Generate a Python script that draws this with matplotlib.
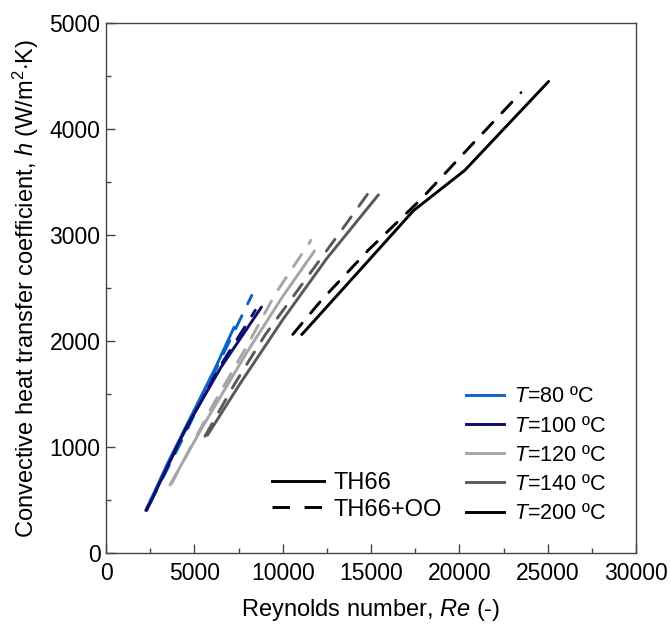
import matplotlib
matplotlib.use("Agg")
import matplotlib.pyplot as plt
from matplotlib.lines import Line2D

plt.rcParams['font.family'] = ['Liberation Sans', 'DejaVu Sans']
plt.rcParams['mathtext.fontset'] = 'custom'
plt.rcParams['mathtext.rm'] = 'Liberation Sans'
plt.rcParams['mathtext.it'] = 'Liberation Sans:italic'

# ---- data (Re, h) ----
temps = ["80", "100", "120", "140", "200"]
colors = ["#0a64c8", "#0d0d6b", "#a6a6a6", "#595959", "#000000"]

re_80_th66 = [2450, 3500, 5000, 6200, 7250]
h_80_th66 = [470, 850, 1350, 1750, 2130]
re_80_oo = [2500, 4500, 6500, 8250]
h_80_oo = [470, 1130, 1830, 2430]

re_100_th66 = [2300, 4500, 6500, 8800]
h_100_th66 = [400, 1170, 1750, 2320]
re_100_oo = [2250, 4300, 6300, 8450]
h_100_oo = [400, 1100, 1720, 2290]

re_120_th66 = [3620, 5500, 8000, 10000, 11800]
h_120_th66 = [640, 1200, 1900, 2420, 2850]
re_120_oo = [3700, 6000, 8000, 9600, 11600]
h_120_oo = [650, 1380, 1960, 2450, 2950]

re_140_th66 = [5740, 7600, 10000, 12500, 15420]
h_140_th66 = [1110, 1600, 2200, 2780, 3380]
re_140_oo = [5600, 7300, 9000, 11270, 13570, 14990]
h_140_oo = [1100, 1600, 2056, 2575, 3100, 3430]

re_200_th66 = [11080, 14000, 17400, 20300, 25050]
h_200_th66 = [2060, 2600, 3230, 3610, 4450]
re_200_oo = [10570, 12200, 14860, 17780, 20520, 23480]
h_200_oo = [2062, 2386, 2860, 3330, 3820, 4344]

solid_series = [(re_80_th66, h_80_th66), (re_100_th66, h_100_th66),
                (re_120_th66, h_120_th66), (re_140_th66, h_140_th66),
                (re_200_th66, h_200_th66)]
dashed_series = [(re_80_oo, h_80_oo), (re_100_oo, h_100_oo),
                 (re_120_oo, h_120_oo), (re_140_oo, h_140_oo),
                 (re_200_oo, h_200_oo)]

fig = plt.figure(figsize=(6.71, 6.26), dpi=100)
ax = fig.add_axes([0.158, 0.117, 0.79, 0.846])

lw = 2.1
dash = (5, 4.5)
for (x, y), c in zip(dashed_series, colors):
    ax.plot(x, y, color=c, lw=lw, dashes=dash, dash_capstyle='round')
for (x, y), c in zip(solid_series, colors):
    ax.plot(x, y, color=c, lw=lw, solid_capstyle='round')

ax.set_xlim(0, 30000)
ax.set_ylim(0, 5000)
ax.set_xticks(range(0, 30001, 5000))
ax.set_yticks(range(0, 5001, 1000))
ax.set_xticks(range(2500, 30000, 5000), minor=True)
ax.set_yticks(range(500, 5000, 1000), minor=True)
ax.tick_params(which='both', direction='in', top=False, right=False,
               labelsize=16.5, color='#444444')
ax.tick_params(which='major', length=6.5, width=1)
ax.tick_params(which='minor', length=3.5, width=1)
ax.tick_params(axis='x', pad=7)
ax.tick_params(axis='y', pad=4)
for s in ax.spines.values():
    s.set_color('#444444')
    s.set_linewidth(1)

ax.set_xlabel('Reynolds number, $\\mathit{Re}$ (-)', fontsize=17, labelpad=8)
ax.set_ylabel('Convective heat transfer coefficient, $\\mathit{h}$ (W/m$^{2}$$\\cdot$K)',
              fontsize=17, labelpad=6)

# legend 1: line styles
h1 = [Line2D([], [], color='black', lw=lw),
      Line2D([], [], color='black', lw=lw, dashes=(6, 5))]
leg1 = ax.legend(h1, ['TH66', 'TH66+OO'], loc='upper left',
                 bbox_to_anchor=(0.313, 0.152), frameon=False, fontsize=17,
                 handlelength=2.2, handletextpad=0.4, labelspacing=0.18,
                 borderpad=0, borderaxespad=0)
ax.add_artist(leg1)

# legend 2: temperatures
h2 = [Line2D([], [], color=c, lw=lw) for c in colors]
labels2 = ['$\\mathit{T}$=' + t + ' ºC' for t in temps]
ax.legend(h2, labels2, loc='upper left', bbox_to_anchor=(0.679, 0.314),
          frameon=False, fontsize=15.5, handlelength=1.75, handletextpad=0.5,
          labelspacing=0.38, borderpad=0, borderaxespad=0)

fig.savefig('out.png', dpi=100)
